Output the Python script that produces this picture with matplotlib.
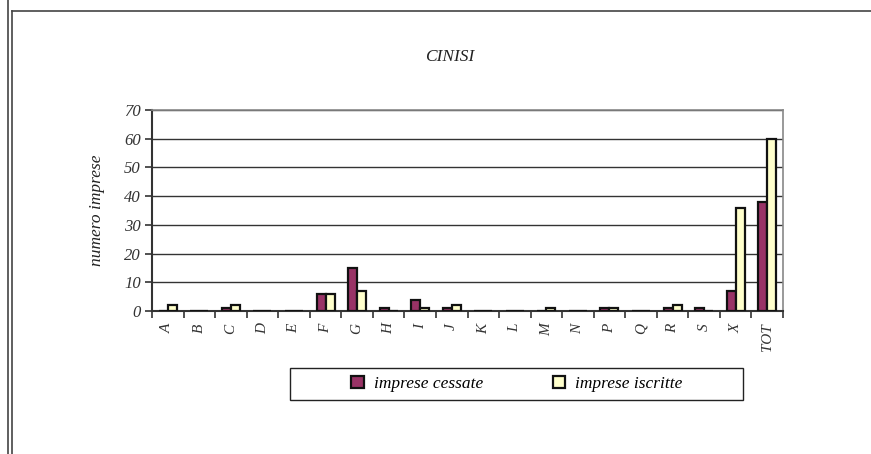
import matplotlib
matplotlib.use("Agg")
import matplotlib.pyplot as plt
import numpy as np
from matplotlib.patches import Rectangle
from matplotlib.lines import Line2D

categories = ["A", "B", "C", "D", "E", "F", "G", "H", "I", "J", "K", "L", "M", "N", "P", "Q", "R", "S", "X", "TOT"]
cessate = [0, 0, 1, 0, 0, 6, 15, 1, 4, 1, 0, 0, 0, 0, 1, 0, 1, 1, 7, 38]
iscritte = [2, 0, 2, 0, 0, 6, 7, 0, 1, 2, 0, 0, 1, 0, 1, 0, 2, 0, 36, 60]
yticks = [0, 10, 20, 30, 40, 50, 60, 70]

plt.rcParams['font.family'] = ['Liberation Serif', 'DejaVu Serif']
plt.rcParams['font.style'] = 'italic'

fig = plt.figure(figsize=(8.71, 4.54), dpi=100)
ax = fig.add_axes([152/871, 1-311/454, (783-152)/871, (311-110)/454])

x = np.arange(len(categories))
w = 0.285
c1 = "#993366"
c2 = "#FFFFCC"
ax.bar(x - w/2, cessate, width=w, color=c1, edgecolor="#111111", linewidth=1.6, label="imprese cessate", zorder=3)
ax.bar(x + w/2, iscritte, width=w, color=c2, edgecolor="#111111", linewidth=1.6, label="imprese iscritte", zorder=3)

ax.set_xlim(-0.5, len(categories) - 0.5)
ax.set_ylim(0, 70)
ax.set_yticks(yticks)
ax.set_yticklabels([str(v) for v in yticks], fontsize=12, color="#333333")
ax.set_xticks(x)
ax.set_xticklabels(categories, rotation=90, fontsize=11, color="#333333")
ax.set_xticks(np.arange(-0.5, len(categories) + 0.5, 1), minor=True)
ax.tick_params(axis='x', which='major', length=0, pad=9)
ax.tick_params(axis='x', which='minor', length=5, width=1.2, color="#333333", direction='out')
ax.tick_params(axis='y', length=5, width=1.2, color="#333333", direction='out', pad=3)
ax.yaxis.grid(True, color="#333333", linewidth=1.0, zorder=0)
ax.set_axisbelow(True)
for s in ["left", "bottom"]:
    ax.spines[s].set_color("#333333")
    ax.spines[s].set_linewidth(1.5)
for s in ["top", "right"]:
    ax.spines[s].set_color("#888888")
    ax.spines[s].set_linewidth(1.2)

ax.set_ylabel("numero imprese", fontsize=12.5, color="#222222", labelpad=14)
fig.text(450/871, 1-57/454, "CINISI", ha="center", va="center", fontsize=12.5, color="#222222")

# legend box
fig.patches.append(Rectangle((290/871, 1-400/454), 453/871, 32/454, transform=fig.transFigure,
                             facecolor="white", edgecolor="#222222", linewidth=1.0, zorder=1))
h, l = ax.get_legend_handles_labels()
leg = fig.legend(h, l, loc="center", bbox_to_anchor=(517/871, 1-384/454), ncol=2, frameon=False,
                 fontsize=12.5, handlelength=0.7, handleheight=0.7, handletextpad=0.6, columnspacing=4.0)

# page borders
fig.add_artist(Line2D([8/871, 8/871], [0, 1], transform=fig.transFigure, color="#444444", linewidth=1.2))
fig.add_artist(Line2D([12/871, 12/871], [0, 1-11/454], transform=fig.transFigure, color="#444444", linewidth=1.2))
fig.add_artist(Line2D([12/871, 1], [1-11/454, 1-11/454], transform=fig.transFigure, color="#444444", linewidth=1.2))

fig.savefig("out.png", dpi=100)
